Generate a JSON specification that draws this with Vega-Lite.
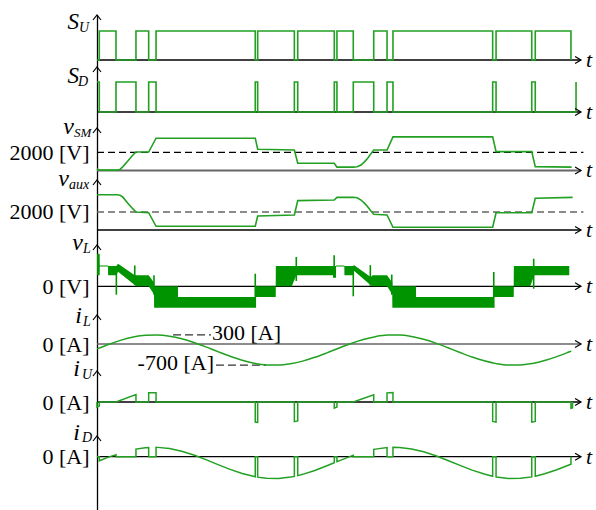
{
"$schema":"https://vega.github.io/schema/vega-lite/v6.json",
"padding":{"left":8,"top":11,"right":0,"bottom":0},
"spacing":0,
"bounds":"flush",
"config":{"view":{"stroke":null},"font":"Liberation Serif","axis":{"domainColor":"black","domainWidth":1.3,"ticks":false,"grid":false,"labelFont":"Liberation Serif","labelFontSize":22,"labelColor":"black","labelPadding":8}},
"datasets":{
"su":[{"t":0,"v":0},{"t":0.19,"v":1},{"t":1.57,"v":0},{"t":3.22,"v":1},{"t":4.27,"v":0},{"t":4.88,"v":1},{"t":13.08,"v":0},{"t":13.28,"v":1},{"t":16.31,"v":0},{"t":16.59,"v":1},{"t":19.61,"v":0},{"t":19.83,"v":1},{"t":21.18,"v":0},{"t":22.87,"v":1},{"t":23.97,"v":0},{"t":24.46,"v":1},{"t":32.7,"v":0},{"t":32.98,"v":1},{"t":35.93,"v":0},{"t":36.22,"v":1},{"t":39.17,"v":0}],
"sd":[{"t":0,"v":1},{"t":0.19,"v":0},{"t":1.57,"v":1},{"t":3.22,"v":0},{"t":4.27,"v":1},{"t":4.88,"v":0},{"t":13.08,"v":1},{"t":13.28,"v":0},{"t":16.31,"v":1},{"t":16.59,"v":0},{"t":19.61,"v":1},{"t":19.83,"v":0},{"t":21.18,"v":1},{"t":22.87,"v":0},{"t":23.97,"v":1},{"t":24.46,"v":0},{"t":32.7,"v":1},{"t":32.98,"v":0},{"t":35.93,"v":1},{"t":36.22,"v":0},{"t":39.59,"v":1}],
"vsm":[{"t":0,"v":200},{"t":0.19,"v":40},{"t":1.65,"v":40},{"t":1.9,"v":120},{"t":2.12,"v":400},{"t":2.53,"v":1010},{"t":2.95,"v":1670},{"t":3.22,"v":2030},{"t":4.27,"v":2030},{"t":4.88,"v":3550},{"t":13.08,"v":3550},{"t":13.28,"v":2330},{"t":16.31,"v":2250},{"t":16.59,"v":800},{"t":19.61,"v":800},{"t":19.83,"v":370},{"t":21.18,"v":370},{"t":21.5,"v":420},{"t":21.82,"v":600},{"t":22.1,"v":950},{"t":22.37,"v":1340},{"t":22.64,"v":1850},{"t":22.87,"v":2250},{"t":23.97,"v":2250},{"t":24.46,"v":3700},{"t":32.7,"v":3700},{"t":32.98,"v":2070},{"t":35.93,"v":2070},{"t":36.22,"v":430},{"t":39.23,"v":370}],
"vaux":[{"t":0,"v":3920},{"t":1.65,"v":3920},{"t":1.9,"v":3870},{"t":2.12,"v":3670},{"t":2.53,"v":3000},{"t":2.95,"v":2370},{"t":3.22,"v":2000},{"t":4.27,"v":1920},{"t":4.88,"v":410},{"t":13.08,"v":410},{"t":13.28,"v":1560},{"t":16.31,"v":1670},{"t":16.59,"v":3260},{"t":19.61,"v":3330},{"t":19.83,"v":3630},{"t":21.18,"v":3630},{"t":21.5,"v":3580},{"t":21.82,"v":3330},{"t":22.1,"v":2980},{"t":22.37,"v":2590},{"t":22.64,"v":2100},{"t":22.87,"v":1750},{"t":23.97,"v":1670},{"t":24.46,"v":300},{"t":32.7,"v":300},{"t":32.98,"v":1920},{"t":35.93,"v":1920},{"t":36.22,"v":3520},{"t":39.31,"v":3630}],
"vlband":[{"t":0,"lo":2060,"hi":6100},{"t":0.22,"lo":2060,"hi":6100},{"t":0.23,"lo":3700,"hi":3900},{"t":0.91,"lo":3700,"hi":3900},{"t":0.92,"lo":2060,"hi":3800},{"t":1.6,"lo":2060,"hi":3800},{"t":1.74,"lo":2700,"hi":4200},{"t":3.12,"lo":250,"hi":2060},{"t":3.25,"lo":0,"hi":2060},{"t":4.27,"lo":0,"hi":2060},{"t":4.71,"lo":-1500,"hi":700},{"t":4.72,"lo":-4000,"hi":0},{"t":6.69,"lo":-4000,"hi":0},{"t":6.7,"lo":-4000,"hi":-2000},{"t":13.08,"lo":-4000,"hi":-2000},{"t":13.09,"lo":-2000,"hi":0},{"t":14.77,"lo":-2000,"hi":0},{"t":14.78,"lo":0,"hi":3800},{"t":16.1,"lo":0,"hi":3800},{"t":16.47,"lo":2060,"hi":3800},{"t":19.5,"lo":2060,"hi":3800},{"t":19.51,"lo":1600,"hi":3800},{"t":19.75,"lo":1600,"hi":3800},{"t":19.76,"lo":3700,"hi":3900},{"t":20.44,"lo":3700,"hi":3900},{"t":20.45,"lo":2060,"hi":3800},{"t":21.13,"lo":2060,"hi":3800},{"t":21.26,"lo":2860,"hi":3925},{"t":22.62,"lo":190,"hi":1740},{"t":22.79,"lo":0,"hi":2060},{"t":23.97,"lo":0,"hi":2060},{"t":24.4,"lo":-1500,"hi":700},{"t":24.41,"lo":-4000,"hi":0},{"t":26.36,"lo":-4000,"hi":0},{"t":26.37,"lo":-4000,"hi":-2000},{"t":32.79,"lo":-4000,"hi":-2000},{"t":32.8,"lo":-2000,"hi":0},{"t":34.44,"lo":-2000,"hi":0},{"t":34.45,"lo":0,"hi":3800},{"t":35.8,"lo":0,"hi":3800},{"t":36.14,"lo":2060,"hi":3800},{"t":39.03,"lo":2060,"hi":3800}],
"vls":[{"t":1.6,"lo":-1570,"hi":3800},{"t":3.12,"lo":240,"hi":3900},{"t":4.71,"lo":-1570,"hi":2060},{"t":13.08,"lo":-4000,"hi":2356},{"t":16.47,"lo":1000,"hi":5480},{"t":19.6,"lo":1700,"hi":5800},{"t":21.18,"lo":-1870,"hi":3800},{"t":22.59,"lo":100,"hi":3960},{"t":24.36,"lo":-1570,"hi":2200},{"t":32.79,"lo":-4000,"hi":2670},{"t":36.09,"lo":-450,"hi":5150}],
"il":[{"t":0,"v":-161},{"t":1,"v":-7},{"t":2,"v":127},{"t":3,"v":228},{"t":4,"v":287},{"t":5,"v":298},{"t":6,"v":259},{"t":7,"v":174},{"t":8,"v":52},{"t":9,"v":-95},{"t":10,"v":-253},{"t":11,"v":-405},{"t":12,"v":-537},{"t":13,"v":-635},{"t":14,"v":-690},{"t":15,"v":-697},{"t":16,"v":-653},{"t":17,"v":-565},{"t":18,"v":-440},{"t":19,"v":-292},{"t":20,"v":-134},{"t":21,"v":17},{"t":22,"v":147},{"t":23,"v":242},{"t":24,"v":293},{"t":25,"v":295},{"t":26,"v":248},{"t":27,"v":156},{"t":28,"v":28},{"t":29,"v":-122},{"t":30,"v":-279},{"t":31,"v":-429},{"t":32,"v":-556},{"t":33,"v":-648},{"t":34,"v":-695},{"t":35,"v":-693},{"t":36,"v":-641},{"t":37,"v":-546},{"t":38,"v":-416},{"t":39,"v":-265},{"t":39.2,"v":-234}],
"iu":[{"k":0,"t":0,"v":0},{"k":1,"t":0,"v":-161},{"k":2,"t":0.19,"v":-131},{"k":3,"t":0.19,"v":0},{"k":4,"t":1.57,"v":0},{"k":5,"t":3.22,"v":235},{"k":6,"t":3.22,"v":0},{"k":7,"t":4.27,"v":0},{"k":8,"t":4.27,"v":295},{"k":9,"t":4.88,"v":299},{"k":10,"t":4.88,"v":0},{"k":11,"t":13.08,"v":0},{"k":12,"t":13.08,"v":-641},{"k":13,"t":13.28,"v":-655},{"k":14,"t":13.28,"v":0},{"k":15,"t":16.31,"v":0},{"k":16,"t":16.31,"v":-630},{"k":17,"t":16.59,"v":-606},{"k":18,"t":16.59,"v":0},{"k":19,"t":19.61,"v":0},{"k":20,"t":19.61,"v":-196},{"k":21,"t":19.83,"v":-161},{"k":22,"t":19.83,"v":0},{"k":23,"t":21.18,"v":0},{"k":24,"t":22.87,"v":232},{"k":25,"t":22.87,"v":0},{"k":26,"t":23.97,"v":0},{"k":27,"t":23.97,"v":292},{"k":28,"t":24.46,"v":300},{"k":29,"t":24.46,"v":0},{"k":30,"t":32.7,"v":0},{"k":31,"t":32.7,"v":-624},{"k":32,"t":32.98,"v":-646},{"k":33,"t":32.98,"v":0},{"k":34,"t":35.93,"v":0},{"k":35,"t":35.93,"v":-646},{"k":36,"t":36.22,"v":-624},{"k":37,"t":36.22,"v":0},{"k":38,"t":39.17,"v":0},{"k":39,"t":39.17,"v":-200},{"k":40,"t":39.3,"v":-190},{"k":41,"t":39.3,"v":0}],
"id":[{"k":0,"t":0,"v":0},{"k":1,"t":0.19,"v":0},{"k":2,"t":0.19,"v":-131},{"k":3,"t":1,"v":-7},{"k":4,"t":1.57,"v":60},{"k":5,"t":1.57,"v":0},{"k":6,"t":3.22,"v":0},{"k":7,"t":3.22,"v":245},{"k":8,"t":4,"v":287},{"k":9,"t":4.27,"v":295},{"k":10,"t":4.27,"v":0},{"k":11,"t":4.88,"v":0},{"k":12,"t":4.88,"v":299},{"k":13,"t":5,"v":298},{"k":14,"t":6,"v":259},{"k":15,"t":7,"v":174},{"k":16,"t":8,"v":52},{"k":17,"t":9,"v":-95},{"k":18,"t":10,"v":-253},{"k":19,"t":11,"v":-405},{"k":20,"t":12,"v":-537},{"k":21,"t":13,"v":-635},{"k":22,"t":13.08,"v":-641},{"k":23,"t":13.08,"v":0},{"k":24,"t":13.28,"v":0},{"k":25,"t":13.28,"v":-655},{"k":26,"t":14,"v":-690},{"k":27,"t":15,"v":-697},{"k":28,"t":16,"v":-653},{"k":29,"t":16.31,"v":-630},{"k":30,"t":16.31,"v":0},{"k":31,"t":16.59,"v":0},{"k":32,"t":16.59,"v":-606},{"k":33,"t":17,"v":-565},{"k":34,"t":18,"v":-440},{"k":35,"t":19,"v":-292},{"k":36,"t":19.61,"v":-196},{"k":37,"t":19.61,"v":0},{"k":38,"t":19.83,"v":0},{"k":39,"t":19.83,"v":-161},{"k":40,"t":20,"v":-134},{"k":41,"t":21,"v":17},{"k":42,"t":21.18,"v":42},{"k":43,"t":21.18,"v":0},{"k":44,"t":22.87,"v":0},{"k":45,"t":22.87,"v":232},{"k":46,"t":23,"v":242},{"k":47,"t":23.97,"v":292},{"k":48,"t":23.97,"v":0},{"k":49,"t":24.46,"v":0},{"k":50,"t":24.46,"v":300},{"k":51,"t":25,"v":295},{"k":52,"t":26,"v":248},{"k":53,"t":27,"v":156},{"k":54,"t":28,"v":28},{"k":55,"t":29,"v":-122},{"k":56,"t":30,"v":-279},{"k":57,"t":31,"v":-429},{"k":58,"t":32,"v":-556},{"k":59,"t":32.7,"v":-624},{"k":60,"t":32.7,"v":0},{"k":61,"t":32.98,"v":0},{"k":62,"t":32.98,"v":-646},{"k":63,"t":33,"v":-648},{"k":64,"t":34,"v":-695},{"k":65,"t":35,"v":-693},{"k":66,"t":35.93,"v":-646},{"k":67,"t":35.93,"v":0},{"k":68,"t":36.22,"v":0},{"k":69,"t":36.22,"v":-624},{"k":70,"t":37,"v":-546},{"k":71,"t":38,"v":-416},{"k":72,"t":39,"v":-265},{"k":73,"t":39.17,"v":-238},{"k":74,"t":39.17,"v":0}]
},
"vconcat":[
{"height":52,"width":484,"data":{"values":[{}]},"layer":[
{"mark":{"type":"rule","color":"black","strokeWidth":1.3},"encoding":{"x":{"datum":0,"type":"quantitative","scale":{"domain":[0,40],"nice":false,"zero":false},"axis":null},"x2":{"datum":40},"y":{"datum":0,"type":"quantitative","scale":{"domain":[-0.241,1.552],"nice":false,"zero":false},"axis":{"title":null,"labels":false}}}},
{"data":{"name":"su"},"mark":{"type":"line","color":"#22a022","strokeWidth":1.6,"interpolate":"step-after"},"encoding":{"x":{"field":"t","type":"quantitative","scale":{"domain":[0,40],"nice":false,"zero":false},"axis":null},"y":{"field":"v","type":"quantitative","scale":{"domain":[-0.241,1.552],"nice":false,"zero":false},"axis":{"title":null,"labels":false}}}},
{"mark":{"type":"point","shape":"M-2,2.5L0,0L2,2.5","size":16,"filled":false,"stroke":"black","strokeWidth":1.2,"opacity":1},"encoding":{"x":{"datum":0,"type":"quantitative","scale":{"domain":[0,40],"nice":false,"zero":false},"axis":null},"y":{"datum":1.552,"type":"quantitative","scale":{"domain":[-0.241,1.552],"nice":false,"zero":false},"axis":{"title":null,"labels":false}}}},
{"mark":{"type":"point","shape":"M-1.7,-1L0,0L-1.7,1","size":49,"filled":false,"stroke":"black","strokeWidth":1.2,"opacity":1},"encoding":{"x":{"datum":40,"type":"quantitative","scale":{"domain":[0,40],"nice":false,"zero":false},"axis":null},"y":{"datum":0,"type":"quantitative","scale":{"domain":[-0.241,1.552],"nice":false,"zero":false},"axis":{"title":null,"labels":false}}}},
{"mark":{"type":"text","text":"t","font":"Liberation Serif","fontStyle":"italic","fontSize":22,"align":"left","baseline":"middle","dx":5},"encoding":{"x":{"datum":40,"type":"quantitative","scale":{"domain":[0,40],"nice":false,"zero":false},"axis":null},"y":{"datum":0,"type":"quantitative","scale":{"domain":[-0.241,1.552],"nice":false,"zero":false},"axis":{"title":null,"labels":false}}}},
{"mark":{"type":"text","text":"S","font":"Liberation Serif","fontStyle":"italic","fontSize":23,"align":"right","baseline":"alphabetic","dx":-18,"dy":14},"encoding":{"x":{"datum":0,"type":"quantitative","scale":{"domain":[0,40],"nice":false,"zero":false},"axis":null},"y":{"datum":1.552,"type":"quantitative","scale":{"domain":[-0.241,1.552],"nice":false,"zero":false},"axis":{"title":null,"labels":false}}}},
{"mark":{"type":"text","text":"U","font":"Liberation Serif","fontStyle":"italic","fontSize":14,"align":"left","baseline":"alphabetic","dx":-18,"dy":17},"encoding":{"x":{"datum":0,"type":"quantitative","scale":{"domain":[0,40],"nice":false,"zero":false},"axis":null},"y":{"datum":1.552,"type":"quantitative","scale":{"domain":[-0.241,1.552],"nice":false,"zero":false},"axis":{"title":null,"labels":false}}}}
]},
{"height":61,"width":484,"data":{"values":[{}]},"layer":[
{"mark":{"type":"rule","color":"black","strokeWidth":1.3},"encoding":{"x":{"datum":0,"type":"quantitative","scale":{"domain":[0,40],"nice":false,"zero":false},"axis":null},"x2":{"datum":40},"y":{"datum":0,"type":"quantitative","scale":{"domain":[-0.533,1.5],"nice":false,"zero":false},"axis":{"title":null,"labels":false}}}},
{"data":{"name":"sd"},"mark":{"type":"line","color":"#22a022","strokeWidth":1.6,"interpolate":"step-after"},"encoding":{"x":{"field":"t","type":"quantitative","scale":{"domain":[0,40],"nice":false,"zero":false},"axis":null},"y":{"field":"v","type":"quantitative","scale":{"domain":[-0.533,1.5],"nice":false,"zero":false},"axis":{"title":null,"labels":false}}}},
{"mark":{"type":"point","shape":"M-2,2.5L0,0L2,2.5","size":16,"filled":false,"stroke":"black","strokeWidth":1.2,"opacity":1},"encoding":{"x":{"datum":0,"type":"quantitative","scale":{"domain":[0,40],"nice":false,"zero":false},"axis":null},"y":{"datum":1.5,"type":"quantitative","scale":{"domain":[-0.533,1.5],"nice":false,"zero":false},"axis":{"title":null,"labels":false}}}},
{"mark":{"type":"point","shape":"M-1.7,-1L0,0L-1.7,1","size":49,"filled":false,"stroke":"black","strokeWidth":1.2,"opacity":1},"encoding":{"x":{"datum":40,"type":"quantitative","scale":{"domain":[0,40],"nice":false,"zero":false},"axis":null},"y":{"datum":0,"type":"quantitative","scale":{"domain":[-0.533,1.5],"nice":false,"zero":false},"axis":{"title":null,"labels":false}}}},
{"mark":{"type":"text","text":"t","font":"Liberation Serif","fontStyle":"italic","fontSize":22,"align":"left","baseline":"middle","dx":5},"encoding":{"x":{"datum":40,"type":"quantitative","scale":{"domain":[0,40],"nice":false,"zero":false},"axis":null},"y":{"datum":0,"type":"quantitative","scale":{"domain":[-0.533,1.5],"nice":false,"zero":false},"axis":{"title":null,"labels":false}}}},
{"mark":{"type":"text","text":"S","font":"Liberation Serif","fontStyle":"italic","fontSize":23,"align":"right","baseline":"alphabetic","dx":-18,"dy":16},"encoding":{"x":{"datum":0,"type":"quantitative","scale":{"domain":[0,40],"nice":false,"zero":false},"axis":null},"y":{"datum":1.5,"type":"quantitative","scale":{"domain":[-0.533,1.5],"nice":false,"zero":false},"axis":{"title":null,"labels":false}}}},
{"mark":{"type":"text","text":"D","font":"Liberation Serif","fontStyle":"italic","fontSize":14,"align":"left","baseline":"alphabetic","dx":-19,"dy":19},"encoding":{"x":{"datum":0,"type":"quantitative","scale":{"domain":[0,40],"nice":false,"zero":false},"axis":null},"y":{"datum":1.5,"type":"quantitative","scale":{"domain":[-0.533,1.5],"nice":false,"zero":false},"axis":{"title":null,"labels":false}}}}
]},
{"height":52,"width":484,"data":{"values":[{}]},"layer":[
{"mark":{"type":"rule","color":"#666666","strokeWidth":2},"encoding":{"x":{"datum":0,"type":"quantitative","scale":{"domain":[0,40],"nice":false,"zero":false},"axis":null},"x2":{"datum":40},"y":{"datum":0,"type":"quantitative","scale":{"domain":[-1044,4670],"nice":false,"zero":false},"axis":{"title":null,"values":[2000],"labelExpr":"'2000 [V]'"}}}},
{"mark":{"type":"rule","color":"black","strokeWidth":1.3,"strokeDash":[7,4]},"encoding":{"x":{"datum":0,"type":"quantitative","scale":{"domain":[0,40],"nice":false,"zero":false},"axis":null},"x2":{"datum":40.2},"y":{"datum":2000,"type":"quantitative","scale":{"domain":[-1044,4670],"nice":false,"zero":false},"axis":{"title":null,"values":[2000],"labelExpr":"'2000 [V]'"}}}},
{"data":{"name":"vsm"},"mark":{"type":"line","color":"#22a022","strokeWidth":1.6},"encoding":{"x":{"field":"t","type":"quantitative","scale":{"domain":[0,40],"nice":false,"zero":false},"axis":null},"y":{"field":"v","type":"quantitative","scale":{"domain":[-1044,4670],"nice":false,"zero":false},"axis":{"title":null,"values":[2000],"labelExpr":"'2000 [V]'"}}}},
{"mark":{"type":"point","shape":"M-2,2.5L0,0L2,2.5","size":16,"filled":false,"stroke":"black","strokeWidth":1.2,"opacity":1},"encoding":{"x":{"datum":0,"type":"quantitative","scale":{"domain":[0,40],"nice":false,"zero":false},"axis":null},"y":{"datum":4670,"type":"quantitative","scale":{"domain":[-1044,4670],"nice":false,"zero":false},"axis":{"title":null,"values":[2000],"labelExpr":"'2000 [V]'"}}}},
{"mark":{"type":"point","shape":"M-1.7,-1L0,0L-1.7,1","size":49,"filled":false,"stroke":"black","strokeWidth":1.2,"opacity":1},"encoding":{"x":{"datum":40,"type":"quantitative","scale":{"domain":[0,40],"nice":false,"zero":false},"axis":null},"y":{"datum":0,"type":"quantitative","scale":{"domain":[-1044,4670],"nice":false,"zero":false},"axis":{"title":null,"values":[2000],"labelExpr":"'2000 [V]'"}}}},
{"mark":{"type":"text","text":"t","font":"Liberation Serif","fontStyle":"italic","fontSize":22,"align":"left","baseline":"middle","dx":5},"encoding":{"x":{"datum":40,"type":"quantitative","scale":{"domain":[0,40],"nice":false,"zero":false},"axis":null},"y":{"datum":0,"type":"quantitative","scale":{"domain":[-1044,4670],"nice":false,"zero":false},"axis":{"title":null,"values":[2000],"labelExpr":"'2000 [V]'"}}}},
{"mark":{"type":"text","text":"v","font":"Liberation Serif","fontStyle":"italic","fontSize":24,"align":"right","baseline":"alphabetic","dx":-23,"dy":6},"encoding":{"x":{"datum":0,"type":"quantitative","scale":{"domain":[0,40],"nice":false,"zero":false},"axis":null},"y":{"datum":4670,"type":"quantitative","scale":{"domain":[-1044,4670],"nice":false,"zero":false},"axis":{"title":null,"values":[2000],"labelExpr":"'2000 [V]'"}}}},
{"mark":{"type":"text","text":"SM","font":"Liberation Serif","fontStyle":"italic","fontSize":13,"align":"left","baseline":"alphabetic","dx":-23,"dy":9},"encoding":{"x":{"datum":0,"type":"quantitative","scale":{"domain":[0,40],"nice":false,"zero":false},"axis":null},"y":{"datum":4670,"type":"quantitative","scale":{"domain":[-1044,4670],"nice":false,"zero":false},"axis":{"title":null,"values":[2000],"labelExpr":"'2000 [V]'"}}}}
]},
{"height":65,"width":484,"data":{"values":[{}]},"layer":[
{"mark":{"type":"rule","color":"black","strokeWidth":1.3},"encoding":{"x":{"datum":0,"type":"quantitative","scale":{"domain":[0,40],"nice":false,"zero":false},"axis":null},"x2":{"datum":40},"y":{"datum":0,"type":"quantitative","scale":{"domain":[-1667,5555],"nice":false,"zero":false},"axis":{"title":null,"values":[2000],"labelExpr":"'2000 [V]'"}}}},
{"mark":{"type":"rule","color":"#666666","strokeWidth":1.6,"strokeDash":[7,4]},"encoding":{"x":{"datum":0,"type":"quantitative","scale":{"domain":[0,40],"nice":false,"zero":false},"axis":null},"x2":{"datum":40.2},"y":{"datum":2000,"type":"quantitative","scale":{"domain":[-1667,5555],"nice":false,"zero":false},"axis":{"title":null,"values":[2000],"labelExpr":"'2000 [V]'"}}}},
{"data":{"name":"vaux"},"mark":{"type":"line","color":"#22a022","strokeWidth":1.6},"encoding":{"x":{"field":"t","type":"quantitative","scale":{"domain":[0,40],"nice":false,"zero":false},"axis":null},"y":{"field":"v","type":"quantitative","scale":{"domain":[-1667,5555],"nice":false,"zero":false},"axis":{"title":null,"values":[2000],"labelExpr":"'2000 [V]'"}}}},
{"mark":{"type":"point","shape":"M-2,2.5L0,0L2,2.5","size":16,"filled":false,"stroke":"black","strokeWidth":1.2,"opacity":1},"encoding":{"x":{"datum":0,"type":"quantitative","scale":{"domain":[0,40],"nice":false,"zero":false},"axis":null},"y":{"datum":5555,"type":"quantitative","scale":{"domain":[-1667,5555],"nice":false,"zero":false},"axis":{"title":null,"values":[2000],"labelExpr":"'2000 [V]'"}}}},
{"mark":{"type":"point","shape":"M-1.7,-1L0,0L-1.7,1","size":49,"filled":false,"stroke":"black","strokeWidth":1.2,"opacity":1},"encoding":{"x":{"datum":40,"type":"quantitative","scale":{"domain":[0,40],"nice":false,"zero":false},"axis":null},"y":{"datum":0,"type":"quantitative","scale":{"domain":[-1667,5555],"nice":false,"zero":false},"axis":{"title":null,"values":[2000],"labelExpr":"'2000 [V]'"}}}},
{"mark":{"type":"text","text":"t","font":"Liberation Serif","fontStyle":"italic","fontSize":22,"align":"left","baseline":"middle","dx":5},"encoding":{"x":{"datum":40,"type":"quantitative","scale":{"domain":[0,40],"nice":false,"zero":false},"axis":null},"y":{"datum":0,"type":"quantitative","scale":{"domain":[-1667,5555],"nice":false,"zero":false},"axis":{"title":null,"values":[2000],"labelExpr":"'2000 [V]'"}}}},
{"mark":{"type":"text","text":"v","font":"Liberation Serif","fontStyle":"italic","fontSize":24,"align":"right","baseline":"alphabetic","dx":-28,"dy":6},"encoding":{"x":{"datum":0,"type":"quantitative","scale":{"domain":[0,40],"nice":false,"zero":false},"axis":null},"y":{"datum":5555,"type":"quantitative","scale":{"domain":[-1667,5555],"nice":false,"zero":false},"axis":{"title":null,"values":[2000],"labelExpr":"'2000 [V]'"}}}},
{"mark":{"type":"text","text":"aux","font":"Liberation Serif","fontStyle":"italic","fontSize":14,"align":"left","baseline":"alphabetic","dx":-28,"dy":9},"encoding":{"x":{"datum":0,"type":"quantitative","scale":{"domain":[0,40],"nice":false,"zero":false},"axis":null},"y":{"datum":5555,"type":"quantitative","scale":{"domain":[-1667,5555],"nice":false,"zero":false},"axis":{"title":null,"values":[2000],"labelExpr":"'2000 [V]'"}}}}
]},
{"height":70,"width":484,"data":{"values":[{}]},"layer":[
{"mark":{"type":"rule","color":"black","strokeWidth":1.3},"encoding":{"x":{"datum":0,"type":"quantitative","scale":{"domain":[0,40],"nice":false,"zero":false},"axis":null},"x2":{"datum":40},"y":{"datum":0,"type":"quantitative","scale":{"domain":[-5367,7723],"nice":false,"zero":false},"axis":{"title":null,"values":[0],"labelExpr":"'0 [V]'"}}}},
{"data":{"name":"vlband"},"mark":{"type":"area","color":"#009400","orient":"vertical"},"encoding":{"x":{"field":"t","type":"quantitative","scale":{"domain":[0,40],"nice":false,"zero":false},"axis":null},"y":{"field":"lo","type":"quantitative","scale":{"domain":[-5367,7723],"nice":false,"zero":false},"axis":{"title":null,"values":[0],"labelExpr":"'0 [V]'"}},"y2":{"field":"hi"}}},
{"data":{"name":"vls"},"mark":{"type":"rule","color":"#009400","strokeWidth":1.6},"encoding":{"x":{"field":"t","type":"quantitative","scale":{"domain":[0,40],"nice":false,"zero":false},"axis":null},"y":{"field":"lo","type":"quantitative","scale":{"domain":[-5367,7723],"nice":false,"zero":false},"axis":{"title":null,"values":[0],"labelExpr":"'0 [V]'"}},"y2":{"field":"hi"}}},
{"mark":{"type":"point","shape":"M-2,2.5L0,0L2,2.5","size":16,"filled":false,"stroke":"black","strokeWidth":1.2,"opacity":1},"encoding":{"x":{"datum":0,"type":"quantitative","scale":{"domain":[0,40],"nice":false,"zero":false},"axis":null},"y":{"datum":7723,"type":"quantitative","scale":{"domain":[-5367,7723],"nice":false,"zero":false},"axis":{"title":null,"values":[0],"labelExpr":"'0 [V]'"}}}},
{"mark":{"type":"point","shape":"M-1.7,-1L0,0L-1.7,1","size":49,"filled":false,"stroke":"black","strokeWidth":1.2,"opacity":1},"encoding":{"x":{"datum":40,"type":"quantitative","scale":{"domain":[0,40],"nice":false,"zero":false},"axis":null},"y":{"datum":0,"type":"quantitative","scale":{"domain":[-5367,7723],"nice":false,"zero":false},"axis":{"title":null,"values":[0],"labelExpr":"'0 [V]'"}}}},
{"mark":{"type":"text","text":"t","font":"Liberation Serif","fontStyle":"italic","fontSize":22,"align":"left","baseline":"middle","dx":5},"encoding":{"x":{"datum":40,"type":"quantitative","scale":{"domain":[0,40],"nice":false,"zero":false},"axis":null},"y":{"datum":0,"type":"quantitative","scale":{"domain":[-5367,7723],"nice":false,"zero":false},"axis":{"title":null,"values":[0],"labelExpr":"'0 [V]'"}}}},
{"mark":{"type":"text","text":"v","font":"Liberation Serif","fontStyle":"italic","fontSize":24,"align":"right","baseline":"alphabetic","dx":-14,"dy":5},"encoding":{"x":{"datum":0,"type":"quantitative","scale":{"domain":[0,40],"nice":false,"zero":false},"axis":null},"y":{"datum":7723,"type":"quantitative","scale":{"domain":[-5367,7723],"nice":false,"zero":false},"axis":{"title":null,"values":[0],"labelExpr":"'0 [V]'"}}}},
{"mark":{"type":"text","text":"L","font":"Liberation Serif","fontStyle":"italic","fontSize":14,"align":"left","baseline":"alphabetic","dx":-14,"dy":8},"encoding":{"x":{"datum":0,"type":"quantitative","scale":{"domain":[0,40],"nice":false,"zero":false},"axis":null},"y":{"datum":7723,"type":"quantitative","scale":{"domain":[-5367,7723],"nice":false,"zero":false},"axis":{"title":null,"values":[0],"labelExpr":"'0 [V]'"}}}}
]},
{"height":56,"width":484,"data":{"values":[{}]},"layer":[
{"mark":{"type":"rule","color":"#666666","strokeWidth":1.6},"encoding":{"x":{"datum":0,"type":"quantitative","scale":{"domain":[0,40],"nice":false,"zero":false},"axis":null},"x2":{"datum":40},"y":{"datum":0,"type":"quantitative","scale":{"domain":[-891,957],"nice":false,"zero":false},"axis":{"title":null,"values":[0],"labelExpr":"'0 [A]'"}}}},
{"mark":{"type":"rule","color":"#333333","strokeWidth":1.2,"strokeDash":[8,4]},"encoding":{"x":{"datum":6.28,"type":"quantitative","scale":{"domain":[0,40],"nice":false,"zero":false},"axis":null},"x2":{"datum":9.42},"y":{"datum":300,"type":"quantitative","scale":{"domain":[-891,957],"nice":false,"zero":false},"axis":{"title":null,"values":[0],"labelExpr":"'0 [A]'"}}}},
{"mark":{"type":"rule","color":"#333333","strokeWidth":1.2,"strokeDash":[8,4]},"encoding":{"x":{"datum":9.83,"type":"quantitative","scale":{"domain":[0,40],"nice":false,"zero":false},"axis":null},"x2":{"datum":13.97},"y":{"datum":-700,"type":"quantitative","scale":{"domain":[-891,957],"nice":false,"zero":false},"axis":{"title":null,"values":[0],"labelExpr":"'0 [A]'"}}}},
{"data":{"name":"il"},"mark":{"type":"line","color":"#22a022","strokeWidth":1.5,"interpolate":"monotone"},"encoding":{"x":{"field":"t","type":"quantitative","scale":{"domain":[0,40],"nice":false,"zero":false},"axis":null},"y":{"field":"v","type":"quantitative","scale":{"domain":[-891,957],"nice":false,"zero":false},"axis":{"title":null,"values":[0],"labelExpr":"'0 [A]'"}}}},
{"mark":{"type":"text","text":"300 [A]","font":"Liberation Serif","fontSize":22,"align":"left","baseline":"middle","dx":1,"dy":-2},"encoding":{"x":{"datum":9.42,"type":"quantitative","scale":{"domain":[0,40],"nice":false,"zero":false},"axis":null},"y":{"datum":300,"type":"quantitative","scale":{"domain":[-891,957],"nice":false,"zero":false},"axis":{"title":null,"values":[0],"labelExpr":"'0 [A]'"}}}},
{"mark":{"type":"text","text":"-700 [A]","font":"Liberation Serif","fontSize":22,"align":"right","baseline":"middle","dx":-1,"dy":-2},"encoding":{"x":{"datum":9.75,"type":"quantitative","scale":{"domain":[0,40],"nice":false,"zero":false},"axis":null},"y":{"datum":-700,"type":"quantitative","scale":{"domain":[-891,957],"nice":false,"zero":false},"axis":{"title":null,"values":[0],"labelExpr":"'0 [A]'"}}}},
{"mark":{"type":"point","shape":"M-2,2.5L0,0L2,2.5","size":16,"filled":false,"stroke":"black","strokeWidth":1.2,"opacity":1},"encoding":{"x":{"datum":0,"type":"quantitative","scale":{"domain":[0,40],"nice":false,"zero":false},"axis":null},"y":{"datum":957,"type":"quantitative","scale":{"domain":[-891,957],"nice":false,"zero":false},"axis":{"title":null,"values":[0],"labelExpr":"'0 [A]'"}}}},
{"mark":{"type":"point","shape":"M-1.7,-1L0,0L-1.7,1","size":49,"filled":false,"stroke":"black","strokeWidth":1.2,"opacity":1},"encoding":{"x":{"datum":40,"type":"quantitative","scale":{"domain":[0,40],"nice":false,"zero":false},"axis":null},"y":{"datum":0,"type":"quantitative","scale":{"domain":[-891,957],"nice":false,"zero":false},"axis":{"title":null,"values":[0],"labelExpr":"'0 [A]'"}}}},
{"mark":{"type":"text","text":"t","font":"Liberation Serif","fontStyle":"italic","fontSize":22,"align":"left","baseline":"middle","dx":5},"encoding":{"x":{"datum":40,"type":"quantitative","scale":{"domain":[0,40],"nice":false,"zero":false},"axis":null},"y":{"datum":0,"type":"quantitative","scale":{"domain":[-891,957],"nice":false,"zero":false},"axis":{"title":null,"values":[0],"labelExpr":"'0 [A]'"}}}},
{"mark":{"type":"text","text":"i","font":"Liberation Serif","fontStyle":"italic","fontSize":24,"align":"right","baseline":"alphabetic","dx":-15,"dy":8},"encoding":{"x":{"datum":0,"type":"quantitative","scale":{"domain":[0,40],"nice":false,"zero":false},"axis":null},"y":{"datum":957,"type":"quantitative","scale":{"domain":[-891,957],"nice":false,"zero":false},"axis":{"title":null,"values":[0],"labelExpr":"'0 [A]'"}}}},
{"mark":{"type":"text","text":"L","font":"Liberation Serif","fontStyle":"italic","fontSize":14,"align":"left","baseline":"alphabetic","dx":-14,"dy":11},"encoding":{"x":{"datum":0,"type":"quantitative","scale":{"domain":[0,40],"nice":false,"zero":false},"axis":null},"y":{"datum":957,"type":"quantitative","scale":{"domain":[-891,957],"nice":false,"zero":false},"axis":{"title":null,"values":[0],"labelExpr":"'0 [A]'"}}}}
]},
{"height":65,"width":484,"data":{"values":[{}]},"layer":[
{"mark":{"type":"rule","color":"black","strokeWidth":1.3},"encoding":{"x":{"datum":0,"type":"quantitative","scale":{"domain":[0,40],"nice":false,"zero":false},"axis":null},"x2":{"datum":40},"y":{"datum":0,"type":"quantitative","scale":{"domain":[-1088,992],"nice":false,"zero":false},"axis":{"title":null,"values":[0],"labelExpr":"'0 [A]'"}}}},
{"data":{"name":"iu"},"mark":{"type":"line","color":"#22a022","strokeWidth":1.5},"encoding":{"x":{"field":"t","type":"quantitative","scale":{"domain":[0,40],"nice":false,"zero":false},"axis":null},"y":{"field":"v","type":"quantitative","scale":{"domain":[-1088,992],"nice":false,"zero":false},"axis":{"title":null,"values":[0],"labelExpr":"'0 [A]'"}},"order":{"field":"k","type":"quantitative"}}},
{"mark":{"type":"point","shape":"M-2,2.5L0,0L2,2.5","size":16,"filled":false,"stroke":"black","strokeWidth":1.2,"opacity":1},"encoding":{"x":{"datum":0,"type":"quantitative","scale":{"domain":[0,40],"nice":false,"zero":false},"axis":null},"y":{"datum":992,"type":"quantitative","scale":{"domain":[-1088,992],"nice":false,"zero":false},"axis":{"title":null,"values":[0],"labelExpr":"'0 [A]'"}}}},
{"mark":{"type":"point","shape":"M-1.7,-1L0,0L-1.7,1","size":49,"filled":false,"stroke":"black","strokeWidth":1.2,"opacity":1},"encoding":{"x":{"datum":40,"type":"quantitative","scale":{"domain":[0,40],"nice":false,"zero":false},"axis":null},"y":{"datum":0,"type":"quantitative","scale":{"domain":[-1088,992],"nice":false,"zero":false},"axis":{"title":null,"values":[0],"labelExpr":"'0 [A]'"}}}},
{"mark":{"type":"text","text":"t","font":"Liberation Serif","fontStyle":"italic","fontSize":22,"align":"left","baseline":"middle","dx":5},"encoding":{"x":{"datum":40,"type":"quantitative","scale":{"domain":[0,40],"nice":false,"zero":false},"axis":null},"y":{"datum":0,"type":"quantitative","scale":{"domain":[-1088,992],"nice":false,"zero":false},"axis":{"title":null,"values":[0],"labelExpr":"'0 [A]'"}}}},
{"mark":{"type":"text","text":"i","font":"Liberation Serif","fontStyle":"italic","fontSize":24,"align":"right","baseline":"alphabetic","dx":-17,"dy":5},"encoding":{"x":{"datum":0,"type":"quantitative","scale":{"domain":[0,40],"nice":false,"zero":false},"axis":null},"y":{"datum":992,"type":"quantitative","scale":{"domain":[-1088,992],"nice":false,"zero":false},"axis":{"title":null,"values":[0],"labelExpr":"'0 [A]'"}}}},
{"mark":{"type":"text","text":"U","font":"Liberation Serif","fontStyle":"italic","fontSize":14,"align":"left","baseline":"alphabetic","dx":-15,"dy":8},"encoding":{"x":{"datum":0,"type":"quantitative","scale":{"domain":[0,40],"nice":false,"zero":false},"axis":null},"y":{"datum":992,"type":"quantitative","scale":{"domain":[-1088,992],"nice":false,"zero":false},"axis":{"title":null,"values":[0],"labelExpr":"'0 [A]'"}}}}
]},
{"height":74,"width":484,"data":{"values":[{}]},"layer":[
{"mark":{"type":"rule","color":"black","strokeWidth":1.3},"encoding":{"x":{"datum":0,"type":"quantitative","scale":{"domain":[0,40],"nice":false,"zero":false},"axis":null},"x2":{"datum":40},"y":{"datum":0,"type":"quantitative","scale":{"domain":[-1706,662],"nice":false,"zero":false},"axis":{"title":null,"values":[0],"labelExpr":"'0 [A]'"}}}},
{"data":{"name":"id"},"mark":{"type":"line","color":"#22a022","strokeWidth":1.5},"encoding":{"x":{"field":"t","type":"quantitative","scale":{"domain":[0,40],"nice":false,"zero":false},"axis":null},"y":{"field":"v","type":"quantitative","scale":{"domain":[-1706,662],"nice":false,"zero":false},"axis":{"title":null,"values":[0],"labelExpr":"'0 [A]'"}},"order":{"field":"k","type":"quantitative"}}},
{"mark":{"type":"point","shape":"M-2,2.5L0,0L2,2.5","size":16,"filled":false,"stroke":"black","strokeWidth":1.2,"opacity":1},"encoding":{"x":{"datum":0,"type":"quantitative","scale":{"domain":[0,40],"nice":false,"zero":false},"axis":null},"y":{"datum":662,"type":"quantitative","scale":{"domain":[-1706,662],"nice":false,"zero":false},"axis":{"title":null,"values":[0],"labelExpr":"'0 [A]'"}}}},
{"mark":{"type":"point","shape":"M-1.7,-1L0,0L-1.7,1","size":49,"filled":false,"stroke":"black","strokeWidth":1.2,"opacity":1},"encoding":{"x":{"datum":40,"type":"quantitative","scale":{"domain":[0,40],"nice":false,"zero":false},"axis":null},"y":{"datum":0,"type":"quantitative","scale":{"domain":[-1706,662],"nice":false,"zero":false},"axis":{"title":null,"values":[0],"labelExpr":"'0 [A]'"}}}},
{"mark":{"type":"text","text":"t","font":"Liberation Serif","fontStyle":"italic","fontSize":22,"align":"left","baseline":"middle","dx":5},"encoding":{"x":{"datum":40,"type":"quantitative","scale":{"domain":[0,40],"nice":false,"zero":false},"axis":null},"y":{"datum":0,"type":"quantitative","scale":{"domain":[-1706,662],"nice":false,"zero":false},"axis":{"title":null,"values":[0],"labelExpr":"'0 [A]'"}}}},
{"mark":{"type":"text","text":"i","font":"Liberation Serif","fontStyle":"italic","fontSize":24,"align":"right","baseline":"alphabetic","dx":-17,"dy":4},"encoding":{"x":{"datum":0,"type":"quantitative","scale":{"domain":[0,40],"nice":false,"zero":false},"axis":null},"y":{"datum":662,"type":"quantitative","scale":{"domain":[-1706,662],"nice":false,"zero":false},"axis":{"title":null,"values":[0],"labelExpr":"'0 [A]'"}}}},
{"mark":{"type":"text","text":"D","font":"Liberation Serif","fontStyle":"italic","fontSize":14,"align":"left","baseline":"alphabetic","dx":-15,"dy":6},"encoding":{"x":{"datum":0,"type":"quantitative","scale":{"domain":[0,40],"nice":false,"zero":false},"axis":null},"y":{"datum":662,"type":"quantitative","scale":{"domain":[-1706,662],"nice":false,"zero":false},"axis":{"title":null,"values":[0],"labelExpr":"'0 [A]'"}}}}
]}
]
}
